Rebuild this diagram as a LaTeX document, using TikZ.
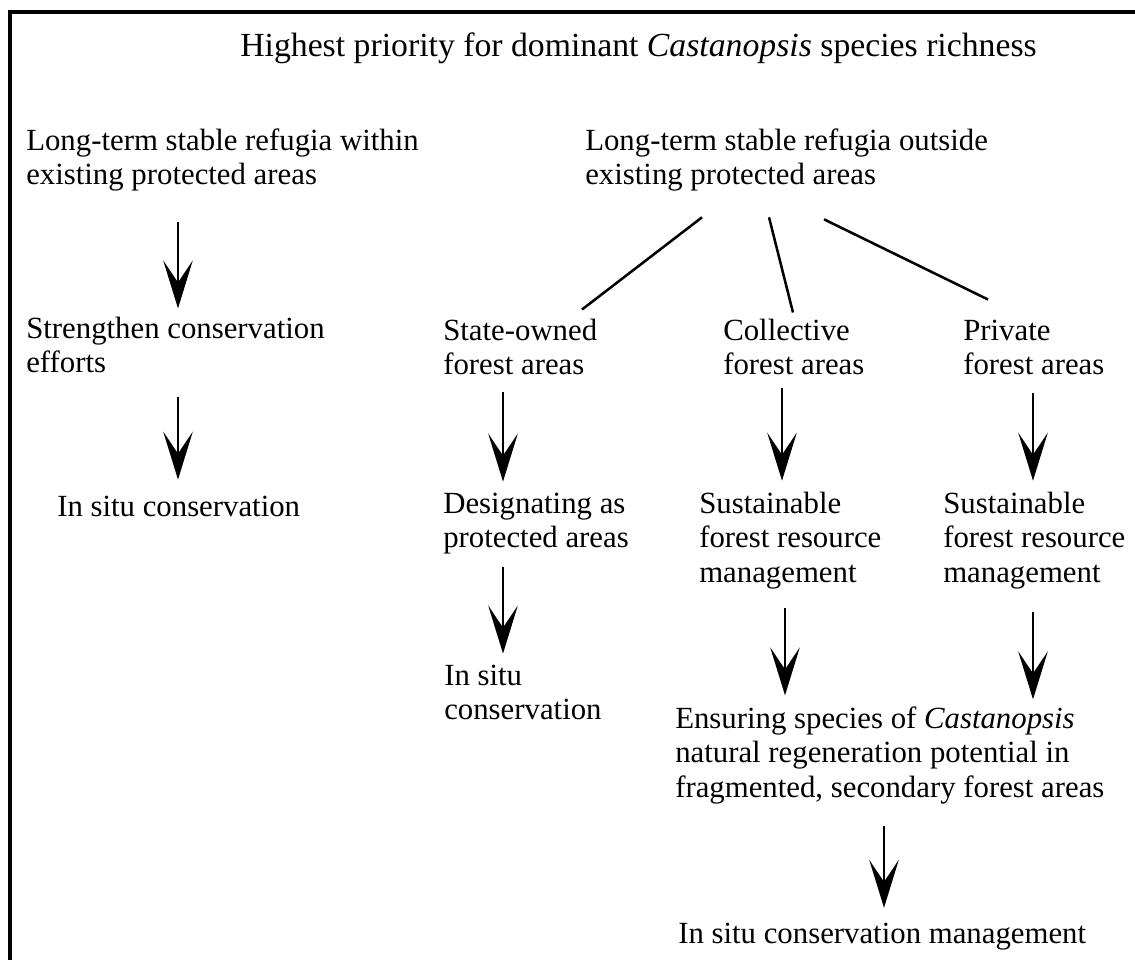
\documentclass[tikz,border=0pt]{standalone}
\usepackage{fontspec}
\setmainfont{Liberation Serif}
\usetikzlibrary{arrows.meta}

\tikzset{
  txt/.style={anchor=base west, align=left, inner sep=0pt,
    font=\fontsize{21.9}{24.5}\selectfont,
    execute at begin node=\strut, execute at end node=\strut},
  arr/.style={line width=1.5pt, -{Stealth[length=1.2cm, width=0.74cm, inset=0.55cm]}},
  ln/.style={line width=1.8pt}
}

\begin{document}
\begin{tikzpicture}

\useasboundingbox (0,0) rectangle (28.375,-24);
\draw[line width=2.2pt] (0.25,-24) -- (0.25,-0.3) -- (28.375,-0.3);

\node[txt, font=\fontsize{24}{27}\selectfont] (title) at (6.0,-1.425) {Highest priority for dominant \textit{Castanopsis} species richness};

% left branch
\node[txt] (lw) at (0.65,-4.6125) {Long-term stable refugia within\\existing protected areas};
\node[txt] (sc) at (0.65,-9.3125) {Strengthen conservation\\efforts};
\node[txt] (is1) at (1.425,-12.9) {In situ conservation};

% right branch
\node[txt] (lo) at (14.625,-4.6125) {Long-term stable refugia outside\\existing protected areas};
\node[txt] (so) at (11.075,-9.3625) {State-owned\\forest areas};
\node[txt] (co) at (18.075,-9.3625) {Collective\\forest areas};
\node[txt] (pr) at (24.075,-9.3625) {Private\\forest areas};
\node[txt] (dp) at (11.075,-13.6875) {Designating as\\protected areas};
\node[txt] (sf1) at (17.475,-14.55) {Sustainable\\forest resource\\management};
\node[txt] (sf2) at (23.575,-14.55) {Sustainable\\forest resource\\management};
\node[txt] (is2) at (11.1,-17.9875) {In situ\\conservation};
\node[txt] (en) at (16.875,-19.925) {Ensuring species of \textit{Castanopsis}\\natural regeneration potential in\\fragmented, secondary forest areas};
\node[txt] (im) at (16.95,-23.575) {In situ conservation management};

% arrow columns
\coordinate (xa) at (4.45,0);
\coordinate (xb) at (12.575,0);
\coordinate (xc) at (19.55,0);
\coordinate (xd) at (25.825,0);
\coordinate (xe) at (19.625,0);
\coordinate (xf) at (22.1,0);

\draw[arr, shorten <=0.68cm, shorten >=0.2cm] (lw.south -| xa) -- (sc.north -| xa);
\draw[arr, shorten <=0.35cm, shorten >=0.3cm] (sc.south -| xa) -- (is1.north -| xa);
\draw[arr, shorten <=0.18cm, shorten >=0.27cm] (so.south -| xb) -- (dp.north -| xb);
\draw[arr, shorten <=0.08cm, shorten >=0.27cm] (co.south -| xc) -- (sf1.north -| xc);
\draw[arr, shorten <=0.2cm, shorten >=0.27cm] (pr.south -| xd) -- (sf2.north -| xd);
\draw[arr, shorten <=0.23cm, shorten >=0.27cm] (dp.south -| xb) -- (is2.north -| xb);
\draw[arr, shorten <=0.39cm, shorten >=0.27cm] (sf1.south -| xe) -- (en.north -| xe);
\draw[arr, shorten <=0.49cm, shorten >=0.17cm] (sf2.south -| xd) -- (en.north -| xd);
\draw[arr, shorten <=0.47cm, shorten >=0.27cm] (en.south -| xf) -- (im.north -| xf);

% links to the ownership types
\draw[ln] ([xshift=2.925cm, yshift=-0.555cm]lo.south west) -- ([xshift=3.475cm, yshift=0.222cm]so.north west);
\draw[ln] ([xshift=4.6cm, yshift=-0.555cm]lo.south west) -- ([xshift=1.75cm, yshift=0.147cm]co.north west);
\draw[ln] ([xshift=5.975cm, yshift=-0.605cm]lo.south west) -- ([xshift=0.625cm, yshift=0.497cm]pr.north west);

\end{tikzpicture}
\end{document}
